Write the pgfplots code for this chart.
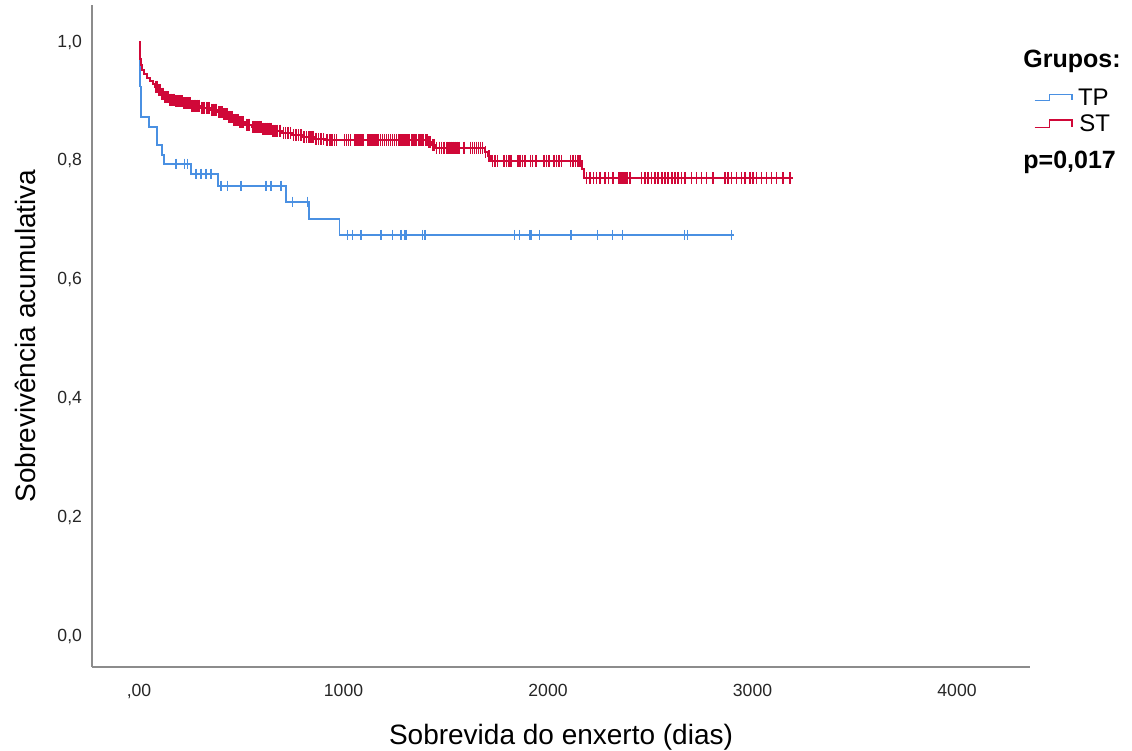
\documentclass[border=0pt]{standalone}
\usepackage{pgfplots}
\pgfplotsset{compat=1.18}
\usepackage{fontspec}
\setmainfont{Liberation Sans}
\definecolor{tpblue}{RGB}{74,144,226}
\definecolor{stred}{RGB}{208,8,56}
\definecolor{axgray}{RGB}{140,140,140}
\begin{document}
\begin{tikzpicture}
\path[use as bounding box] (0,0) rectangle (566pt,375.5pt);
\begin{axis}[
  at={(46pt,42pt)}, anchor=south west,
  width=469pt, height=331pt, scale only axis,
  xmin=-230, xmax=4357, ymin=-0.0522, ymax=1.0623,
  axis x line=bottom, axis y line=left,
  axis line style={-, draw=axgray, line width=1pt},
  xtick={0,1000,2000,3000,4000},
  xticklabels={{,00},1000,2000,3000,4000},
  ytick={0,0.2,0.4,0.6,0.8,1},
  yticklabels={{0,0},{0,2},{0,4},{0,6},{0,8},{1,0}},
  major tick length=0pt,
  tick label style={font=\fontsize{8.8}{10}\selectfont, text=black!85},
  xticklabel style={yshift=-5pt},
  yticklabel style={xshift=-1.5pt},
  xlabel={Sobrevida do enxerto (dias)},
  ylabel={Sobrevivência acumulativa},
  label style={font=\fontsize{14}{16}\selectfont},
  xlabel style={at={(axis description cs:0.5,-0.1057)}, anchor=center},
  ylabel style={at={(axis description cs:-0.0714,0.5)}, anchor=center},
  clip=false,
]
% TP step curve
\addplot[const plot, draw=tpblue, line width=0.9pt] table {
t S
0 1.000
2 0.975
4 0.950
6 0.925
8 0.900
11 0.874
50 0.857
87 0.826
112 0.810
121 0.795
254 0.778
385 0.758
719 0.731
832 0.702
980 0.675
2910 0.675
};
% ST step curve
\addplot[const plot, draw=stred, line width=1pt] table {
t S
0 1.000
3 0.985
6 0.972
10 0.962
16 0.953
25 0.946
38 0.940
52 0.935
66 0.930
80 0.925
95 0.919
110 0.913
125 0.907
145 0.903
175 0.900
215 0.897
255 0.893
300 0.889
350 0.886
385 0.882
410 0.878
435 0.874
460 0.869
490 0.865
520 0.861
550 0.857
600 0.854
650 0.851
700 0.847
750 0.843
800 0.840
860 0.837
910 0.835
1412 0.831
1430 0.827
1450 0.822
1690 0.815
1705 0.808
1720 0.800
2165 0.786
2178 0.771
3198 0.771
};
% TP censored
\addplot[only marks, mark=|, mark size=2.6pt, draw=tpblue, mark options={line width=0.65pt, draw=tpblue}] table {
t S
181 0.795
222 0.795
238 0.795
279 0.778
303 0.778
328 0.778
352 0.778
401 0.758
434 0.758
499 0.758
621 0.758
645 0.758
694 0.758
751 0.731
825 0.731
1020 0.675
1045 0.675
1086 0.675
1183 0.675
1241 0.675
1281 0.675
1297 0.675
1306 0.675
1387 0.675
1398 0.675
1835 0.675
1860 0.675
1909 0.675
1917 0.675
1957 0.675
2112 0.675
2243 0.675
2316 0.675
2365 0.675
2667 0.675
2683 0.675
2897 0.675
};
% ST censored
\addplot[only marks, mark=|, mark size=3pt, draw=stred, mark options={line width=0.8pt, draw=stred}] table {
t S
82 0.925
90 0.925
98 0.919
105 0.919
113 0.913
120 0.913
128 0.907
135 0.907
141 0.907
150 0.903
158 0.903
166 0.903
172 0.903
180 0.900
188 0.900
196 0.900
204 0.900
211 0.900
220 0.897
228 0.897
236 0.897
244 0.897
251 0.897
260 0.893
268 0.893
276 0.893
284 0.893
292 0.893
305 0.889
313 0.889
321 0.889
329 0.889
337 0.889
345 0.889
355 0.886
363 0.886
371 0.886
379 0.886
390 0.882
398 0.882
405 0.882
415 0.878
422 0.878
429 0.878
440 0.874
447 0.874
454 0.874
465 0.869
472 0.869
479 0.869
486 0.869
495 0.865
503 0.865
511 0.865
525 0.861
533 0.861
541 0.861
556 0.857
566 0.857
576 0.857
586 0.857
595 0.857
606 0.854
616 0.854
626 0.854
636 0.854
645 0.854
656 0.851
666 0.851
676 0.851
688 0.851
706 0.847
716 0.847
728 0.847
740 0.847
756 0.843
768 0.843
780 0.843
792 0.843
806 0.840
818 0.840
830 0.840
842 0.840
852 0.840
866 0.837
878 0.837
890 0.837
902 0.837
920 0.835
934 0.835
945 0.835
955 0.835
965 0.835
1005 0.835
1015 0.835
1025 0.835
1035 0.835
1055 0.835
1065 0.835
1075 0.835
1085 0.835
1095 0.835
1120 0.835
1130 0.835
1140 0.835
1150 0.835
1160 0.835
1170 0.835
1180 0.835
1190 0.835
1200 0.835
1210 0.835
1220 0.835
1230 0.835
1240 0.835
1250 0.835
1260 0.835
1270 0.835
1280 0.835
1290 0.835
1300 0.835
1310 0.835
1320 0.835
1335 0.835
1345 0.835
1355 0.835
1370 0.835
1380 0.835
1390 0.835
1400 0.835
1408 0.835
1416 0.831
1422 0.831
1435 0.827
1442 0.827
1455 0.822
1470 0.822
1480 0.822
1490 0.822
1505 0.822
1515 0.822
1525 0.822
1535 0.822
1545 0.822
1555 0.822
1565 0.822
1590 0.822
1620 0.822
1630 0.822
1640 0.822
1650 0.822
1660 0.822
1670 0.822
1680 0.822
1695 0.815
1710 0.808
1728 0.800
1740 0.800
1752 0.800
1784 0.800
1796 0.800
1808 0.800
1820 0.800
1852 0.800
1864 0.800
1876 0.800
1888 0.800
1915 0.800
1925 0.800
1940 0.800
1980 0.800
1992 0.800
2004 0.800
2030 0.800
2042 0.800
2054 0.800
2066 0.800
2110 0.800
2122 0.800
2134 0.800
2146 0.800
2155 0.800
2189 0.771
2205 0.771
2222 0.771
2238 0.771
2254 0.771
2279 0.771
2295 0.771
2319 0.771
2344 0.771
2352 0.771
2360 0.771
2368 0.771
2376 0.771
2385 0.771
2401 0.771
2458 0.771
2474 0.771
2490 0.771
2507 0.771
2523 0.771
2539 0.771
2556 0.771
2572 0.771
2588 0.771
2605 0.771
2621 0.771
2637 0.771
2653 0.771
2670 0.771
2702 0.771
2727 0.771
2751 0.771
2775 0.771
2808 0.771
2865 0.771
2881 0.771
2898 0.771
2922 0.771
2946 0.771
2963 0.771
2987 0.771
3003 0.771
3020 0.771
3044 0.771
3069 0.771
3093 0.771
3118 0.771
3150 0.771
3183 0.771
};
\end{axis}
% legend
\node[anchor=base west, inner sep=0pt, font=\bfseries\fontsize{12.5}{15}\selectfont] at (511.5pt,341.5pt) {Grupos:};
\draw[tpblue, line width=0.75pt] (517.35pt,325.35pt) -- (524.75pt,325.35pt) -- (524.75pt,328.2pt) -- (536pt,328.2pt) -- (536pt,325.35pt);
\node[anchor=base west, inner sep=0pt, font=\fontsize{12}{14}\selectfont] at (538.8pt,322.5pt) {TP};
\draw[stred, line width=0.75pt] (517.35pt,311.8pt) -- (524.75pt,311.8pt) -- (524.75pt,315.6pt) -- (536pt,315.6pt) -- (536pt,311.8pt);
\node[anchor=base west, inner sep=0pt, font=\fontsize{12}{14}\selectfont] at (539.5pt,309.5pt) {ST};
\node[anchor=base west, inner sep=0pt, font=\bfseries\fontsize{12.5}{15}\selectfont] at (511.5pt,291.2pt) {p=0,017};
\end{tikzpicture}
\end{document}
